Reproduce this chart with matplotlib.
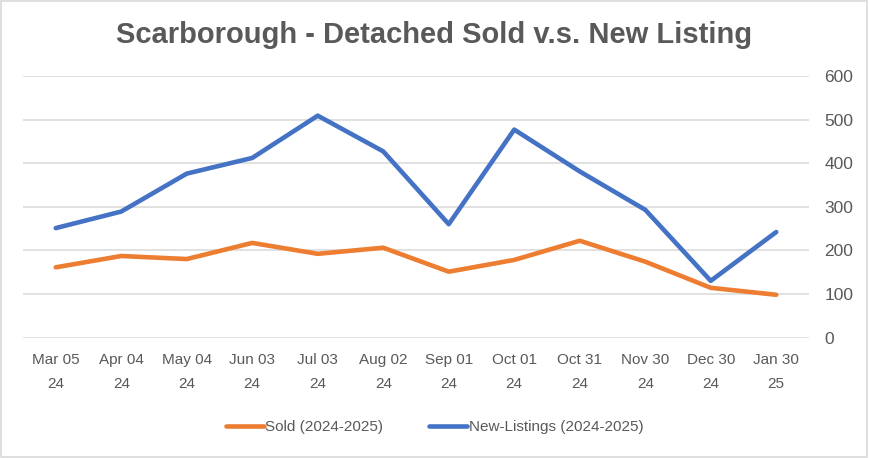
import matplotlib
matplotlib.use("Agg")
import matplotlib.pyplot as plt
from matplotlib.patches import Rectangle
from matplotlib import font_manager

categories = ["Mar 05\n24", "Apr 04\n24", "May 04\n24", "Jun 03\n24", "Jul 03\n24",
              "Aug 02\n24", "Sep 01\n24", "Oct 01\n24", "Oct 31\n24", "Nov 30\n24",
              "Dec 30\n24", "Jan 30\n25"]
sold = [161, 187, 180, 217, 192, 206, 151, 178, 222, 174, 114, 98]
new_listings = [251, 289, 376, 412, 509, 427, 260, 477, 381, 293, 130, 242]
yticks = [0, 100, 200, 300, 400, 500, 600]

names = {f.name for f in font_manager.fontManager.ttflist}
narrow = "Liberation Sans Narrow" if "Liberation Sans Narrow" in names else "Liberation Sans"

fig = plt.figure(figsize=(8.69, 4.58), dpi=100)
fig.patches.append(Rectangle((0.001, 0.002), 0.997, 0.995, transform=fig.transFigure,
                             fill=False, edgecolor="#d9d9d9", linewidth=1.2))
ax = fig.add_axes([23/869, 1-337.5/458, (809-23)/869, (337.5-76)/458])

x = list(range(len(categories)))
ax.plot(x, sold, color="#ED7D31", linewidth=3.3, solid_capstyle="round",
        solid_joinstyle="round", label="Sold (2024-2025)", zorder=3)
ax.plot(x, new_listings, color="#4472C4", linewidth=3.3, solid_capstyle="round",
        solid_joinstyle="round", label="New-Listings (2024-2025)", zorder=3)

ax.set_xlim(-0.5, len(categories) - 0.5)
ax.set_ylim(0, 600)
ax.set_yticks(yticks)
ax.yaxis.tick_right()
ax.grid(axis="y", color="#d9d9d9", linewidth=1.1)
ax.set_axisbelow(True)
for s in ax.spines.values():
    s.set_visible(False)
ax.tick_params(axis="both", length=0, colors="#595959")
ax.tick_params(axis="y", pad=11)
ax.tick_params(axis="x", pad=11)
ax.set_xticks(x)
ax.set_xticklabels(categories, fontsize=11, family=narrow, color="#595959",
                   linespacing=1.9)
for lab in ax.get_yticklabels():
    lab.set_fontsize(12.5)
    lab.set_family("Liberation Sans")
    lab.set_color("#595959")

fig.text(0.5, 1-35/458, "Scarborough - Detached Sold v.s. New Listing", ha="center",
         va="center", fontsize=21, fontweight="bold", family="Liberation Sans",
         color="#595959")

leg = fig.legend(loc="center", bbox_to_anchor=(0.5, 1-427/458), ncol=2, frameon=False,
                 prop={"family": narrow, "size": 11}, handlelength=2.5,
                 handletextpad=0.1, columnspacing=3.0)
for t in leg.get_texts():
    t.set_color("#595959")

fig.savefig("out.png", dpi=100)
